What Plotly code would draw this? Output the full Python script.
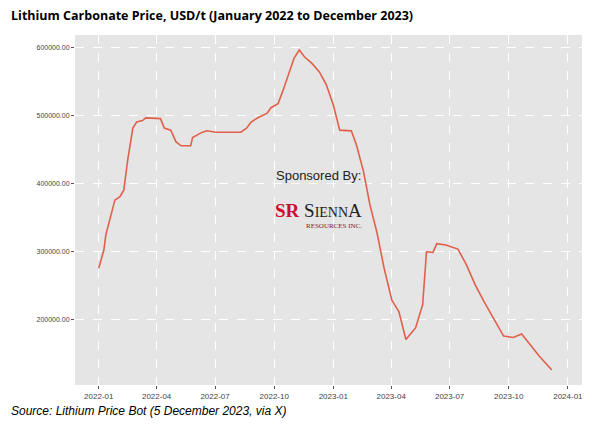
import plotly.graph_objects as go

dates = ["2022-01-01","2022-01-09","2022-01-12","2022-01-18","2022-01-26","2022-02-03","2022-02-09","2022-02-15","2022-02-23","2022-03-01","2022-03-10","2022-03-15","2022-04-07","2022-04-13","2022-04-23","2022-05-01","2022-05-09","2022-05-24","2022-05-27","2022-06-09","2022-06-18","2022-07-02","2022-08-10","2022-08-19","2022-08-26","2022-09-07","2022-09-20","2022-09-26","2022-10-07","2022-10-15","2022-10-23","2022-11-01","2022-11-09","2022-11-17","2022-11-28","2022-12-10","2022-12-21","2023-01-01","2023-01-11","2023-01-29","2023-02-06","2023-02-17","2023-02-27","2023-03-10","2023-03-21","2023-04-02","2023-04-13","2023-04-24","2023-05-01","2023-05-09","2023-05-20","2023-05-26","2023-06-05","2023-06-11","2023-06-25","2023-07-14","2023-07-27","2023-08-10","2023-08-24","2023-09-07","2023-09-23","2023-10-08","2023-10-21","2023-11-01","2023-11-17","2023-12-07"]
prices = [276000,303000,325000,347000,376000,381000,391000,435000,482000,491000,493000,497000,496000,482000,479000,462000,456000,456000,468000,475000,478000,476000,476000,482000,491000,498000,504000,512000,518000,538000,560000,585000,597000,587000,578000,565000,546000,516000,479000,478000,457000,418000,369000,328000,276000,229000,212000,171000,179000,188000,222000,300000,299000,312000,310000,304000,281000,251000,226000,203000,176000,174000,179000,166000,147000,126000]
x_ticks = ["2022-01-01","2022-04-01","2022-07-01","2022-10-01","2023-01-01","2023-04-01","2023-07-01","2023-10-01","2024-01-01"]
x_labels = ["2022-01","2022-04","2022-07","2022-10","2023-01","2023-04","2023-07","2023-10","2024-01"]
y_ticks = [200000,300000,400000,500000,600000]
y_labels = ["200000.00","300000.00","400000.00","500000.00","600000.00"]

fig = go.Figure(go.Scatter(x=dates, y=prices, mode="lines", line=dict(color="#E0604A", width=1.6)))
fig.update_layout(
    width=598, height=428, margin=dict(l=67, r=24, t=27, b=51, autoexpand=False),
    plot_bgcolor="#E5E5E5", paper_bgcolor="white", showlegend=False,
    font=dict(family="Liberation Sans", color="#444"),
)
fig.update_xaxes(range=["2021-11-25","2024-01-23"], tickvals=x_ticks, ticktext=x_labels, automargin=False,
                 gridcolor="white", griddash="dash", gridwidth=1, ticks="outside", ticklen=3,
                 tickcolor="#555", tickfont=dict(size=8, color="#444"), zeroline=False)
fig.update_yaxes(range=[104000, 619000], tickvals=y_ticks, ticktext=y_labels, automargin=False,
                 gridcolor="white", griddash="dash", gridwidth=1, ticks="outside", ticklen=3,
                 tickcolor="#555", tickfont=dict(size=7, color="#444"), zeroline=False)
fig.add_annotation(xref="paper", yref="paper", x=-0.13, y=1.0, yshift=20, xanchor="left", yanchor="middle",
                   text="<b>Lithium Carbonate Price, USD/t (January 2022 to December 2023)</b>",
                   showarrow=False, font=dict(size=12.5, color="black", family="Open Sans"))
fig.add_annotation(xref="paper", yref="paper", x=-0.13, y=0, yshift=-26, xanchor="left", yanchor="middle",
                   text="<i>Source: Lithium Price Bot (5 December 2023, via X)</i>",
                   showarrow=False, font=dict(size=12, color="black", family="Liberation Sans"))
fig.add_annotation(xref="paper", yref="paper", x=0.48, y=0.60, xanchor="center",
                   text="Sponsored By:", showarrow=False, font=dict(size=13, color="#222"))
fig.add_annotation(xref="paper", yref="paper", x=0.48, y=0.50, xanchor="center",
                   text="<span style='color:#C8102E'><b>SR</b></span> <span style='font-family:Liberation Serif'>S<span style='font-size:14px'>IENN</span>A</span>",
                   showarrow=False, font=dict(size=19, color="#222", family="Liberation Serif"))
fig.add_annotation(xref="paper", yref="paper", x=0.51, y=0.455, xanchor="center",
                   text="RESOURCES INC.", showarrow=False, font=dict(size=7, color="#8B2020", family="Liberation Serif"))
fig.write_html("out.html")
